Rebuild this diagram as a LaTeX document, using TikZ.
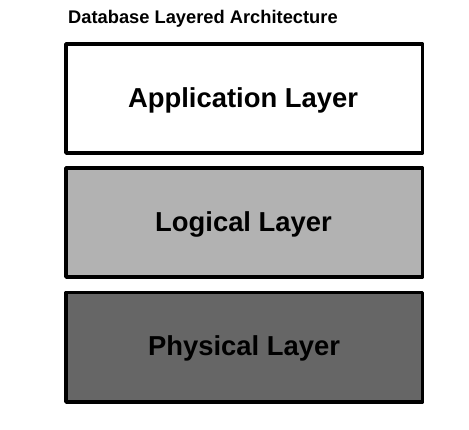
\documentclass[tikz,border=0pt]{standalone}
\usepackage{fontspec}
\setmainfont{Liberation Sans}
\begin{document}
\begin{tikzpicture}[x=1pt,y=-1pt,
  layerbox/.style={draw=black,line width=3.5pt,line join=round},
  layertext/.style={font=\fontsize{27.4}{32}\selectfont\bfseries,text=black},
  titletext/.style={font=\fontsize{18.3}{22}\selectfont\bfseries,anchor=base west,inner sep=0pt}]
\useasboundingbox (0,0) rectangle (469,429);
\node[titletext] (title) at (68,23.3) {Database Layered Architecture};
\path[layerbox,fill=white] (66,44) rectangle (422.5,153);
\node[layertext,anchor=base] (app) at (243,107.3) {Application Layer};
\path[layerbox,fill=black!30] (66,168) rectangle (422.5,277);
\node[layertext,anchor=base] (log) at (243.5,231) {Logical Layer};
\path[layerbox,fill=black!60] (66,292.5) rectangle (422.5,402);
\node[layertext,anchor=base] (phy) at (244,355.5) {Physical Layer};
\end{tikzpicture}
\end{document}
